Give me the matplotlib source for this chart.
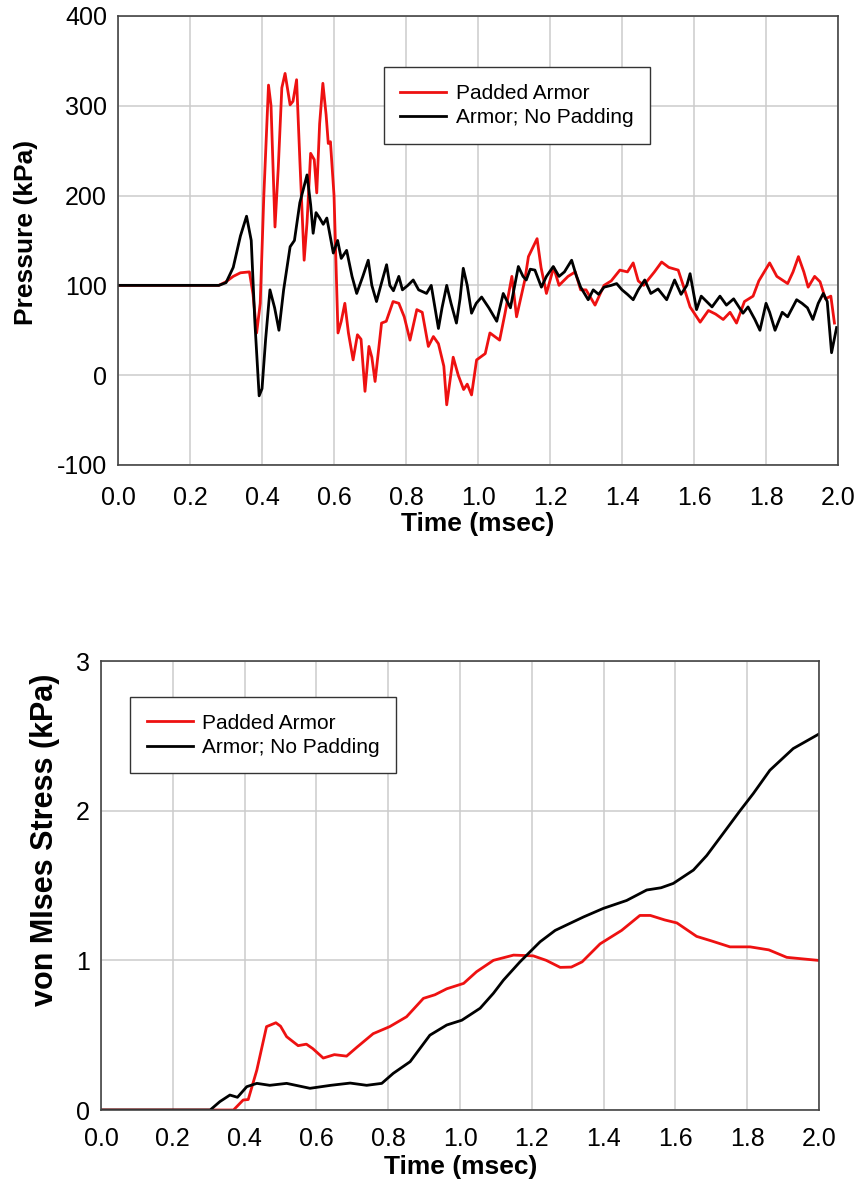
import matplotlib
matplotlib.use('Agg')
import matplotlib.pyplot as plt

plt.rcParams['font.family'] = ['Liberation Sans', 'DejaVu Sans']
plt.rcParams['axes.unicode_minus'] = False

# top chart: pressure (kPa) vs time (msec)
t_black_p = [0.0, 0.28, 0.30, 0.32, 0.34, 0.357, 0.37, 0.38, 0.392, 0.40, 0.41, 0.422, 0.435, 0.447,
             0.46, 0.478, 0.49, 0.505, 0.525, 0.535, 0.542, 0.55, 0.56, 0.57, 0.58, 0.598, 0.61, 0.62,
             0.635, 0.65, 0.663, 0.68, 0.695, 0.705, 0.718, 0.73, 0.746, 0.755, 0.765, 0.78, 0.79, 0.805,
             0.82, 0.835, 0.857, 0.87, 0.89, 0.90, 0.913, 0.925, 0.94, 0.95, 0.959, 0.97, 0.982, 0.995,
             1.01, 1.03, 1.052, 1.07, 1.09, 1.112, 1.125, 1.134, 1.145, 1.158, 1.176, 1.19, 1.209, 1.225,
             1.24, 1.26, 1.272, 1.285, 1.306, 1.32, 1.335, 1.35, 1.37, 1.385, 1.40, 1.415, 1.431, 1.445,
             1.463, 1.48, 1.50, 1.524, 1.546, 1.564, 1.58, 1.589, 1.607, 1.62, 1.635, 1.65, 1.672, 1.69,
             1.71, 1.736, 1.75, 1.769, 1.783, 1.80, 1.81, 1.825, 1.845, 1.86, 1.885, 1.90, 1.915, 1.93,
             1.945, 1.959, 1.97, 1.982, 1.996]
p_black = [100, 100, 103, 120, 155, 177, 150, 60, -23, -15, 40, 95, 75, 50,
           95, 143, 150, 192, 223, 190, 158, 181, 175, 168, 175, 136, 150, 130,
           139, 110, 91, 110, 128, 100, 82, 100, 123, 100, 94, 110, 95, 100,
           106, 95, 91, 100, 52, 75, 100, 80, 58, 85, 119, 100, 69, 80,
           87, 75, 60, 91, 75, 121, 110, 106, 118, 117, 98, 110, 121, 110,
           115, 128, 112, 98, 84, 95, 90, 98, 100, 102, 95, 90, 84, 95,
           106, 91, 96, 84, 106, 90, 100, 113, 73, 88, 82, 76, 88, 78,
           85, 69, 76, 62, 50, 80, 70, 50, 70, 65, 84, 80, 75, 62,
           80, 91, 82, 25, 53]

t_red_p = [0.0, 0.28, 0.30, 0.32, 0.34, 0.365, 0.375, 0.385, 0.395, 0.405, 0.418, 0.425, 0.436, 0.445,
           0.455, 0.464, 0.478, 0.486, 0.496, 0.505, 0.517, 0.525, 0.535, 0.545, 0.552, 0.56, 0.569,
           0.578, 0.584, 0.59, 0.60, 0.611, 0.62, 0.63, 0.64, 0.653, 0.665, 0.675, 0.686, 0.697, 0.705,
           0.714, 0.732, 0.745, 0.764, 0.78, 0.795, 0.811, 0.83, 0.845, 0.862, 0.876, 0.89, 0.905, 0.913,
           0.931, 0.945, 0.96, 0.97, 0.982, 0.996, 1.02, 1.033, 1.06, 1.075, 1.094, 1.107, 1.13, 1.14,
           1.164, 1.175, 1.19, 1.21, 1.225, 1.25, 1.27, 1.285, 1.30, 1.325, 1.35, 1.37, 1.394, 1.415,
           1.431, 1.445, 1.46, 1.49, 1.51, 1.53, 1.556, 1.57, 1.589, 1.617, 1.64, 1.66, 1.681, 1.70,
           1.718, 1.74, 1.764, 1.78, 1.81, 1.83, 1.86, 1.875, 1.89, 1.905, 1.917, 1.935, 1.95, 1.965,
           1.98, 1.99]
p_red = [100, 100, 104, 110, 114, 115, 90, 47, 80, 200, 323, 300, 165, 230,
         320, 336, 301, 305, 329, 240, 128, 170, 247, 240, 203, 280, 325,
         290, 258, 260, 200, 47, 60, 80, 47, 17, 45, 40, -18, 32, 20,
         -7, 58, 60, 82, 80, 65, 39, 73, 70, 32, 43, 35, 10, -33,
         20, 0, -16, -10, -22, 17, 24, 47, 39, 69, 110, 65, 106, 132,
         152, 120, 91, 120, 100, 110, 115, 95, 95, 78, 100, 105, 117, 115,
         125, 105, 100, 115, 126, 120, 117, 100, 76, 59, 72, 68, 62, 70,
         58, 82, 88, 105, 125, 110, 102, 115, 132, 115, 98, 110, 104, 85,
         88, 58]

# bottom chart: von Mises stress (kPa) vs time (msec)
t_red_s = [0, 0.369, 0.396, 0.41, 0.434, 0.461, 0.487, 0.50, 0.517, 0.549, 0.572, 0.59, 0.619, 0.65,
           0.684, 0.713, 0.758, 0.804, 0.851, 0.898, 0.93, 0.963, 1.01, 1.046, 1.093, 1.149, 1.204,
           1.24, 1.279, 1.31, 1.34, 1.39, 1.45, 1.501, 1.53, 1.57, 1.604, 1.659, 1.70, 1.752, 1.808,
           1.86, 1.91, 1.997]
s_red = [0, 0, 0.067, 0.07, 0.267, 0.557, 0.583, 0.56, 0.49, 0.43, 0.44, 0.41, 0.347, 0.37,
         0.36, 0.42, 0.51, 0.557, 0.623, 0.746, 0.77, 0.81, 0.846, 0.924, 1.0, 1.035, 1.03,
         1.0, 0.953, 0.955, 0.99, 1.11, 1.2, 1.30, 1.30, 1.27, 1.25, 1.16, 1.13, 1.09, 1.09,
         1.07, 1.02, 1.0]

t_black_s = [0, 0.304, 0.331, 0.359, 0.38, 0.406, 0.434, 0.47, 0.517, 0.582, 0.64, 0.694, 0.74, 0.782,
             0.814, 0.861, 0.916, 0.963, 1.005, 1.056, 1.093, 1.121, 1.167, 1.223, 1.265, 1.30, 1.344,
             1.399, 1.464, 1.52, 1.56, 1.594, 1.65, 1.687, 1.733, 1.78, 1.817, 1.863, 1.928, 1.998]
s_black = [0, 0, 0.056, 0.10, 0.085, 0.156, 0.178, 0.165, 0.178, 0.145, 0.165, 0.18, 0.165, 0.178,
           0.245, 0.323, 0.50, 0.568, 0.60, 0.68, 0.78, 0.868, 0.99, 1.124, 1.2, 1.24, 1.29,
           1.347, 1.40, 1.47, 1.485, 1.514, 1.603, 1.70, 1.848, 2.0, 2.115, 2.27, 2.415, 2.51]

x_ticks = [0.0, 0.2, 0.4, 0.6, 0.8, 1.0, 1.2, 1.4, 1.6, 1.8, 2.0]
labels = ['Padded Armor', 'Armor; No Padding']

fig = plt.figure(figsize=(8.59, 11.91), dpi=100)
ax1 = fig.add_axes([0.1374, 0.6096, 0.8382, 0.377])
ax2 = fig.add_axes([0.1176, 0.068, 0.8359, 0.377])


def style(ax, xpad):
    ax.grid(True, color='#cccccc', linewidth=1.1)
    ax.set_axisbelow(True)
    for s in ax.spines.values():
        s.set_color('#444444')
        s.set_linewidth(1.2)
    ax.tick_params(length=0, labelsize=18)
    ax.tick_params(axis='x', pad=xpad)
    ax.tick_params(axis='y', pad=8)
    ax.set_xticks(x_ticks)
    ax.set_xticklabels(['%.1f' % v for v in x_ticks])
    ax.set_xlim(0, 2.0)


def legend(ax, anchor):
    ax.legend(loc='upper left', bbox_to_anchor=anchor, fontsize=15, frameon=True,
              fancybox=False, edgecolor='#333333', framealpha=1, handlelength=2.2,
              handletextpad=0.45, borderpad=0.8, labelspacing=0.25, borderaxespad=0)


ax1.plot(t_red_p, p_red, color='#ee1111', lw=2.0, label=labels[0])
ax1.plot(t_black_p, p_black, color='black', lw=2.0, label=labels[1])
style(ax1, 15)
ax1.set_ylim(-100, 400)
ax1.set_yticks([-100, 0, 100, 200, 300, 400])
ax1.set_xlabel('Time (msec)', fontsize=19, fontweight='bold', va='center')
ax1.xaxis.set_label_coords(0.5, -0.131)
ax1.set_ylabel('Pressure (kPa)', fontsize=19, fontweight='bold', va='center', ha='center')
ax1.yaxis.set_label_coords(-0.128, 0.517)
legend(ax1, (0.369, 0.886))

ax2.plot(t_red_s, s_red, color='#ee1111', lw=2.0, label=labels[0])
ax2.plot(t_black_s, s_black, color='black', lw=2.0, label=labels[1])
style(ax2, 12)
ax2.set_ylim(0, 3)
ax2.set_yticks([0, 1, 2, 3])
ax2.set_xlabel('Time (msec)', fontsize=19, fontweight='bold', va='center')
ax2.xaxis.set_label_coords(0.501, -0.127)
ax2.set_ylabel('von MIses Stress (kPa)', fontsize=22, fontweight='bold', va='center', ha='center')
ax2.yaxis.set_label_coords(-0.078, 0.601)
legend(ax2, (0.0404, 0.92))

fig.savefig('out.png', dpi=100)
